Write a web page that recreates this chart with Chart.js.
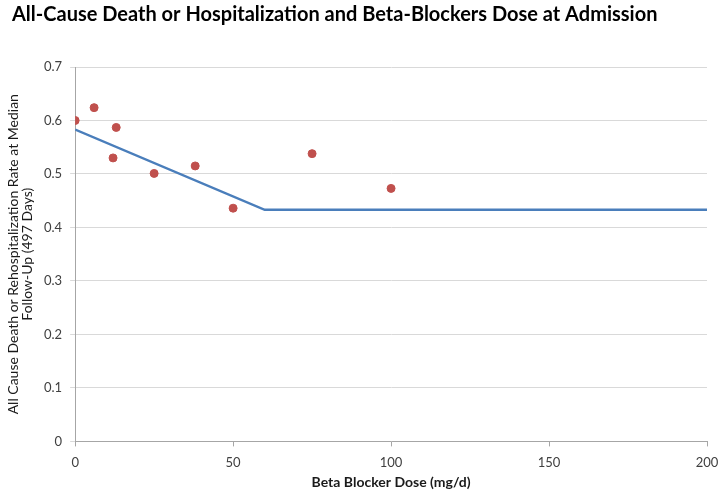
<!DOCTYPE html>
<html><head><meta charset="utf-8">
<script src="https://cdn.jsdelivr.net/npm/chart.js@4"></script>
<style>html,body{margin:0;padding:0;background:#fff}#w{width:724px;height:496px}</style>
</head><body><div id="w"><canvas id="c"></canvas></div>
<script>
const doseX = [0, 6, 12, 13, 25, 38, 50, 75, 100];
const rateY = [0.600, 0.624, 0.530, 0.587, 0.501, 0.515, 0.436, 0.538, 0.473];
const fitX = [0, 60, 200];
const fitY = [0.583, 0.433, 0.433];
const xTicks = [0, 50, 100, 150, 200];
const yTicks = [0, 0.1, 0.2, 0.3, 0.4, 0.5, 0.6, 0.7];

const F = "Lato, 'Open Sans', sans-serif";
const titleShift = { id: 'titleShift', afterLayout(chart) { if (chart.titleBlock) chart.titleBlock.left += 6; } };
new Chart(document.getElementById('c'), {
  type: 'scatter',
  plugins: [titleShift],
  data: {
    datasets: [
      { label: 'Fit', data: fitX.map((x, i) => ({x, y: fitY[i]})), showLine: true,
        borderColor: '#4A7EBB', borderWidth: 2.5, pointRadius: 0, fill: false, order: 2 },
      { label: 'Observed', data: doseX.map((x, i) => ({x, y: rateY[i]})),
        backgroundColor: '#C0504D', borderColor: '#C0504D', pointRadius: 4, order: 1 }
    ]
  },
  options: {
    responsive: true, maintainAspectRatio: false, animation: false,
    layout: { padding: { left: 6, right: 17, top: 0, bottom: 11 } },
    plugins: {
      legend: { display: false }, tooltip: { enabled: false },
      title: { display: true, align: 'start', text: 'All-Cause Death or Hospitalization and Beta-Blockers Dose at Admission',
        color: '#000', font: { family: F, size: 20, weight: 'bold' }, padding: { top: 3, bottom: 40 } }
    },
    scales: {
      x: { type: 'linear', min: 0, max: 200,
        afterBuildTicks: s => { s.ticks = xTicks.map(v => ({value: v})); },
        afterFit: s => { s.paddingRight = 0; },
        grid: { drawOnChartArea: false, drawTicks: true, tickLength: 5, color: '#A6A6A6' },
        border: { color: '#A6A6A6' },
        ticks: { color: '#404040', font: { family: F, size: 13, lineHeight: 1.0 }, padding: 10 },
        title: { display: true, text: 'Beta Blocker Dose (mg/d)', color: '#1a1a1a', font: { family: F, size: 14, weight: 'bold', lineHeight: 0.4 }, padding: { top: 0, bottom: 0 } }
      },
      y: { min: 0, max: 0.7,
        afterBuildTicks: s => { s.ticks = yTicks.map(v => ({value: v})); },
        grid: { color: '#D9D9D9', tickLength: 5 },
        border: { color: '#A6A6A6' },
        ticks: { color: '#404040', font: { family: F, size: 13 }, padding: 8, callback: v => v === 0 ? '0' : v.toFixed(1) },
        title: { display: true, text: ['All Cause Death or Rehospitalization Rate at Median', 'Follow-Up (497 Days)'], color: '#1a1a1a',
          font: { family: F, size: 14, lineHeight: 1.0 }, padding: { top: 0, bottom: 2 } }
      }
    }
  }
});
</script></body></html>
